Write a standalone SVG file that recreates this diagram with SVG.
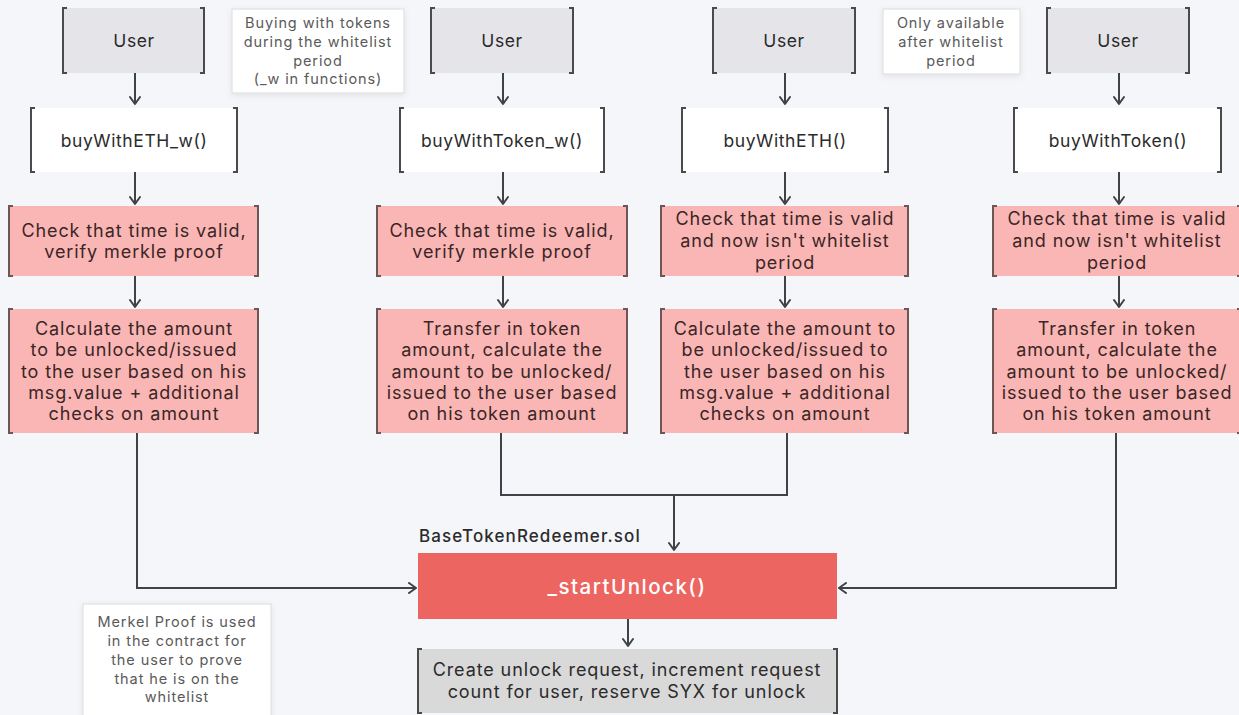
<svg xmlns="http://www.w3.org/2000/svg" width="1239" height="715" viewBox="0 0 1239 715">
  <defs>
    <marker id="arr" viewBox="0 0 12 12" refX="10" refY="6" markerWidth="12" markerHeight="12" markerUnits="userSpaceOnUse" orient="auto">
      <path d="M3,1 L10,6 L3,11" fill="none" stroke="#3f4246" stroke-width="2" stroke-linecap="round" stroke-linejoin="round"/>
    </marker>
    <filter id="shadow" x="-10%" y="-10%" width="120%" height="130%">
      <feDropShadow dx="0" dy="2" stdDeviation="3" flood-color="#000" flood-opacity="0.08"/>
    </filter>
  </defs>
  <style>
    text { font-family: Inter, "Noto Sans", "Liberation Sans", sans-serif; text-anchor: middle; dominant-baseline: central; }
    .user { fill: #e4e4e9; }
    .fn { fill: #ffffff; }
    .step { fill: #fab6b4; }
    .final { fill: #d9d9d9; }
    .brk { fill: none; stroke: #4a4a4a; stroke-width: 2; }
    .brk-p { fill: none; stroke: #6e5656; stroke-width: 2; }
    .t { font-size: 17.5px; letter-spacing: 0.6px; fill: #2b2b2b; }
    .tp { font-size: 18px; letter-spacing: 0.9px; fill: #3a2626; }
    .note { fill: #ffffff; stroke: #dcdcdc; stroke-width: 1; filter: url(#shadow); }
    .tn { font-size: 14.5px; letter-spacing: 0.9px; fill: #5a5a5a; }
    .wire { fill: none; stroke: #3f4246; stroke-width: 2; }
  </style>

  <rect width="1239" height="715" fill="#f5f6f9"/>

  <!-- Column 1: buyWithETH_w -->
  <g id="user1">
    <rect class="user" x="63" y="8" width="141" height="65"/>
    <path class="brk" d="M67,8 H63 V73 H67 M200,8 H204 V73 H200"/>
    <text class="t" x="134" y="40">User</text>
  </g>
  <g id="fn-buyWithETH_w">
    <rect class="fn" x="31" y="108" width="206" height="64"/>
    <path class="brk" d="M35,108 H31 V172 H35 M233,108 H237 V172 H233"/>
    <text class="t" x="134" y="140">buyWithETH_w()</text>
  </g>
  <g id="check1">
    <rect class="step" x="9" y="206" width="249" height="70"/>
    <path class="brk-p" d="M13,206 H9 V276 H13 M254,206 H258 V276 H254"/>
    <text class="tp" x="134" y="230">Check that time is valid,</text>
    <text class="tp" x="134" y="251">verify merkle proof</text>
  </g>
  <g id="calc1">
    <rect class="step" x="9" y="309" width="249" height="124"/>
    <path class="brk-p" d="M13,309 H9 V433 H13 M254,309 H258 V433 H254"/>
    <text class="tp" x="134" y="328">Calculate the amount</text>
    <text class="tp" x="134" y="349">to be unlocked/issued</text>
    <text class="tp" x="134" y="371">to the user based on his</text>
    <text class="tp" x="134" y="392">msg.value + additional</text>
    <text class="tp" x="134" y="413">checks on amount</text>
  </g>

  <!-- Column 2: buyWithToken_w -->
  <g id="user2">
    <rect class="user" x="431" y="8" width="142" height="65"/>
    <path class="brk" d="M435,8 H431 V73 H435 M569,8 H573 V73 H569"/>
    <text class="t" x="502" y="40">User</text>
  </g>
  <g id="fn-buyWithToken_w">
    <rect class="fn" x="400" y="108" width="204" height="64"/>
    <path class="brk" d="M404,108 H400 V172 H404 M600,108 H604 V172 H600"/>
    <text class="t" x="502" y="140">buyWithToken_w()</text>
  </g>
  <g id="check2">
    <rect class="step" x="377" y="206" width="250" height="70"/>
    <path class="brk-p" d="M381,206 H377 V276 H381 M623,206 H627 V276 H623"/>
    <text class="tp" x="502" y="230">Check that time is valid,</text>
    <text class="tp" x="502" y="251">verify merkle proof</text>
  </g>
  <g id="calc2">
    <rect class="step" x="377" y="309" width="250" height="124"/>
    <path class="brk-p" d="M381,309 H377 V433 H381 M623,309 H627 V433 H623"/>
    <text class="tp" x="502" y="328">Transfer in token</text>
    <text class="tp" x="502" y="349">amount, calculate the</text>
    <text class="tp" x="502" y="371">amount to be unlocked/</text>
    <text class="tp" x="502" y="392">issued to the user based</text>
    <text class="tp" x="502" y="413">on his token amount</text>
  </g>

  <!-- Column 3: buyWithETH -->
  <g id="user3">
    <rect class="user" x="713" y="8" width="142" height="65"/>
    <path class="brk" d="M717,8 H713 V73 H717 M851,8 H855 V73 H851"/>
    <text class="t" x="784" y="40">User</text>
  </g>
  <g id="fn-buyWithETH">
    <rect class="fn" x="682" y="108" width="206" height="64"/>
    <path class="brk" d="M686,108 H682 V172 H686 M884,108 H888 V172 H884"/>
    <text class="t" x="785" y="140">buyWithETH()</text>
  </g>
  <g id="check3">
    <rect class="step" x="661" y="206" width="247" height="70"/>
    <path class="brk-p" d="M665,206 H661 V276 H665 M904,206 H908 V276 H904"/>
    <text class="tp" x="785" y="218">Check that time is valid</text>
    <text class="tp" x="785" y="240">and now isn't whitelist</text>
    <text class="tp" x="785" y="262">period</text>
  </g>
  <g id="calc3">
    <rect class="step" x="661" y="309" width="247" height="124"/>
    <path class="brk-p" d="M665,309 H661 V433 H665 M904,309 H908 V433 H904"/>
    <text class="tp" x="785" y="328">Calculate the amount to</text>
    <text class="tp" x="785" y="349">be unlocked/issued to</text>
    <text class="tp" x="785" y="371">the user based on his</text>
    <text class="tp" x="785" y="392">msg.value + additional</text>
    <text class="tp" x="785" y="413">checks on amount</text>
  </g>

  <!-- Column 4: buyWithToken -->
  <g id="user4">
    <rect class="user" x="1047" y="8" width="142" height="65"/>
    <path class="brk" d="M1051,8 H1047 V73 H1051 M1185,8 H1189 V73 H1185"/>
    <text class="t" x="1118" y="40">User</text>
  </g>
  <g id="fn-buyWithToken">
    <rect class="fn" x="1014" y="108" width="207" height="64"/>
    <path class="brk" d="M1018,108 H1014 V172 H1018 M1217,108 H1221 V172 H1217"/>
    <text class="t" x="1118" y="140">buyWithToken()</text>
  </g>
  <g id="check4">
    <rect class="step" x="993" y="206" width="248" height="70"/>
    <path class="brk-p" d="M997,206 H993 V276 H997 M1237,206 H1241 V276 H1237"/>
    <text class="tp" x="1117" y="218">Check that time is valid</text>
    <text class="tp" x="1117" y="240">and now isn't whitelist</text>
    <text class="tp" x="1117" y="262">period</text>
  </g>
  <g id="calc4">
    <rect class="step" x="993" y="309" width="248" height="124"/>
    <path class="brk-p" d="M997,309 H993 V433 H997 M1237,309 H1241 V433 H1237"/>
    <text class="tp" x="1117" y="328">Transfer in token</text>
    <text class="tp" x="1117" y="349">amount, calculate the</text>
    <text class="tp" x="1117" y="371">amount to be unlocked/</text>
    <text class="tp" x="1117" y="392">issued to the user based</text>
    <text class="tp" x="1117" y="413">on his token amount</text>
  </g>

  <!-- Shared unlock logic -->
  <g id="startUnlock">
    <text x="419" y="536" style="text-anchor:start;font-size:17px;letter-spacing:1.1px;font-weight:500;fill:#2b2b2b">BaseTokenRedeemer.sol</text>
    <rect x="418" y="553" width="419" height="66" fill="#ec6561"/>
    <text x="627" y="586" style="font-size:20.5px;letter-spacing:1.5px;font-weight:500;fill:#ffffff">_startUnlock()</text>
  </g>
  <g id="unlock-request">
    <rect class="final" x="418" y="649" width="419" height="64"/>
    <path class="brk" d="M422,649 H418 V713 H422 M833,649 H837 V713 H833"/>
    <text class="tp" x="627" y="669" style="fill:#2b2b2b">Create unlock request, increment request</text>
    <text class="tp" x="627" y="691" style="fill:#2b2b2b">count for user, reserve SYX for unlock</text>
  </g>

  <!-- Notes -->
  <g id="note-whitelist">
    <rect class="note" x="232" y="9" width="172" height="84"/>
    <text class="tn" x="318" y="22">Buying with tokens</text>
    <text class="tn" x="318" y="41">during the whitelist</text>
    <text class="tn" x="318" y="60">period</text>
    <text class="tn" x="318" y="78">(_w in functions)</text>
  </g>
  <g id="note-after">
    <rect class="note" x="883" y="9" width="137" height="65"/>
    <text class="tn" x="951" y="22">Only available</text>
    <text class="tn" x="951" y="41">after whitelist</text>
    <text class="tn" x="951" y="60">period</text>
  </g>
  <g id="note-merkle">
    <rect class="note" x="83" y="604" width="188" height="120"/>
    <text class="tn" x="177" y="621">Merkel Proof is used</text>
    <text class="tn" x="177" y="640">in the contract for</text>
    <text class="tn" x="177" y="659">the user to prove</text>
    <text class="tn" x="177" y="678">that he is on the</text>
    <text class="tn" x="177" y="696">whitelist</text>
  </g>

  <!-- Connectors -->
  <g id="connectors">
    <path class="wire" marker-end="url(#arr)" d="M135,73 V104"/>
    <path class="wire" marker-end="url(#arr)" d="M135,172 V204"/>
    <path class="wire" marker-end="url(#arr)" d="M135,276 V307"/>
    <path class="wire" marker-end="url(#arr)" d="M503,73 V104"/>
    <path class="wire" marker-end="url(#arr)" d="M503,172 V204"/>
    <path class="wire" marker-end="url(#arr)" d="M503,276 V307"/>
    <path class="wire" marker-end="url(#arr)" d="M785,73 V104"/>
    <path class="wire" marker-end="url(#arr)" d="M785,172 V204"/>
    <path class="wire" marker-end="url(#arr)" d="M785,276 V307"/>
    <path class="wire" marker-end="url(#arr)" d="M1119,73 V104"/>
    <path class="wire" marker-end="url(#arr)" d="M1119,172 V204"/>
    <path class="wire" marker-end="url(#arr)" d="M1119,276 V307"/>
    <path class="wire" marker-end="url(#arr)" d="M137,433 V588 H416"/>
    <path class="wire" d="M501,433 V495 H787 V433"/>
    <path class="wire" marker-end="url(#arr)" d="M674,495 V550"/>
    <path class="wire" marker-end="url(#arr)" d="M1116,433 V588 H839"/>
    <path class="wire" marker-end="url(#arr)" d="M628,619 V646"/>
  </g>
</svg>
